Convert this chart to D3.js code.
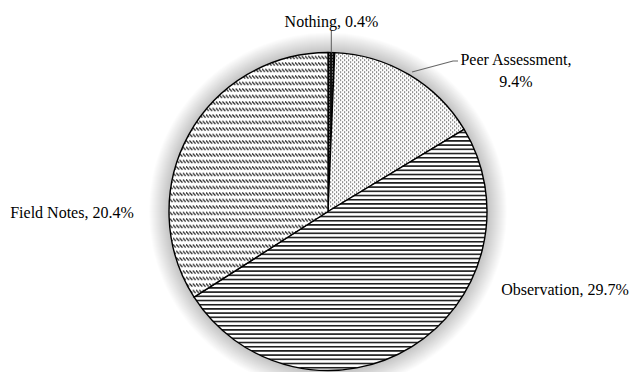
<!DOCTYPE html>
<html>
<head>
<meta charset="utf-8">
<script src="https://cdn.jsdelivr.net/npm/d3@7"></script>
<style>
  html, body { margin: 0; padding: 0; background: #fff; }
  svg { display: block; }
  text { font-family: "Liberation Serif", "Times New Roman", serif; font-size: 16px; fill: #000; }
</style>
</head>
<body>
<svg id="chart" width="633" height="372"></svg>
<script>
// Assessment methods and their shares (percent)
const categories = ["Nothing", "Peer Assessment", "Observation", "Field Notes"];
const values = [0.4, 9.4, 29.7, 20.4];
const labelLines = [["Nothing, 0.4%"], ["Peer Assessment,", "9.4%"], ["Observation, 29.7%"], ["Field Notes, 20.4%"]];

const W = 633, H = 372;
const cx = 328, cy = 211.5, R = 159;
const glowW = 20;

const svg = d3.select("#chart");
const defs = svg.append("defs");

// Fill patterns, one per slice
function pattern(id, w, h, draw) {
  const p = defs.append("pattern").attr("id", id)
    .attr("patternUnits", "userSpaceOnUse").attr("width", w).attr("height", h);
  draw(p);
}
// Nothing: near-solid black with fine light dots
pattern("pNothing", 3, 3, p => {
  p.append("rect").attr("width", 3).attr("height", 3).attr("fill", "#111");
  p.append("rect").attr("x", 1).attr("y", 1).attr("width", 1).attr("height", 1).attr("fill", "#bbb");
});
// Peer Assessment: staggered dots
pattern("pPeer", 4, 4, p => {
  p.append("rect").attr("width", 4).attr("height", 4).attr("fill", "#fff");
  p.append("rect").attr("x", 0).attr("y", 0).attr("width", 1.2).attr("height", 1.2).attr("fill", "#444");
  p.append("rect").attr("x", 2).attr("y", 2).attr("width", 1.2).attr("height", 1.2).attr("fill", "#444");
});
// Observation: narrow horizontal lines
pattern("pObs", 8, 4.2, p => {
  p.append("rect").attr("width", 8).attr("height", 4.2).attr("fill", "#fff");
  p.append("rect").attr("x", 0).attr("y", 0).attr("width", 8).attr("height", 1.6).attr("fill", "#1a1a1a");
});
// Field Notes: rows of short downward diagonal dashes
pattern("pField", 3.3, 6.5, p => {
  p.append("rect").attr("width", 3.3).attr("height", 6.5).attr("fill", "#fff");
  p.append("line").attr("x1", 0).attr("y1", 0.5).attr("x2", 2.9).attr("y2", 3.6)
    .attr("stroke", "#222").attr("stroke-width", 1.3);
});
const fills = ["url(#pNothing)", "url(#pPeer)", "url(#pObs)", "url(#pField)"];

const pie = d3.pie().sort(null).value(d => d).startAngle(0).endAngle(2 * Math.PI);
const arcs = pie(values);
const arc = d3.arc().innerRadius(0).outerRadius(R);

const g = svg.append("g").attr("transform", `translate(${cx},${cy})`);

// Soft halo around the pie: filled discs stacked from the outside in
const halo = g.append("g").attr("class", "halo");
d3.range(glowW, 0, -1).forEach(s => {
  halo.append("circle").attr("r", R + s)
    .attr("fill", "#000")
    .attr("fill-opacity", 0.012);
});

g.append("circle").attr("r", R).attr("fill", "#fff");

g.selectAll("path.slice").data(arcs).join("path")
  .attr("class", "slice")
  .attr("d", arc)
  .attr("fill", (d, i) => fills[i])
  .attr("stroke", "#000")
  .attr("stroke-width", 1.4)
  .attr("stroke-linejoin", "round");

// Label placement (anchor point, alignment) and leader lines
const layout = [
  { x: 331.5, y: 27, anchor: "middle", leader: true },
  { x: 516, y: 65, anchor: "middle", leader: true },
  { x: 565, y: 295, anchor: "middle", leader: false },
  { x: 72, y: 218, anchor: "middle", leader: false }
];
const lineH = 21.5;

// Leader lines from the rim of a slice out to its label
function rimPoint(d, r) {
  const a = (d.startAngle + d.endAngle) / 2;
  return [cx + r * Math.sin(a), cy - r * Math.cos(a)];
}
const leaderPaths = [
  d => { const p = rimPoint(d, R); return [[p[0], p[1]], [p[0], 31]]; },
  d => [[412, 72], [453, 61], [458, 61]]
];
arcs.forEach((d, i) => {
  if (!layout[i].leader) return;
  const pts = leaderPaths[i](d);
  svg.append("path").attr("d", d3.line()(pts))
    .attr("fill", "none").attr("stroke", "#666").attr("stroke-width", 1.1);
});

svg.selectAll("text.label").data(arcs).join("text")
  .attr("class", "label")
  .attr("text-anchor", (d, i) => layout[i].anchor)
  .attr("x", (d, i) => layout[i].x)
  .attr("y", (d, i) => layout[i].y)
  .each(function (d, i) {
    d3.select(this).selectAll("tspan").data(labelLines[i]).join("tspan")
      .attr("x", layout[i].x)
      .attr("dy", (t, j) => j === 0 ? 0 : lineH)
      .text(t => t);
  });
</script>
</body>
</html>
